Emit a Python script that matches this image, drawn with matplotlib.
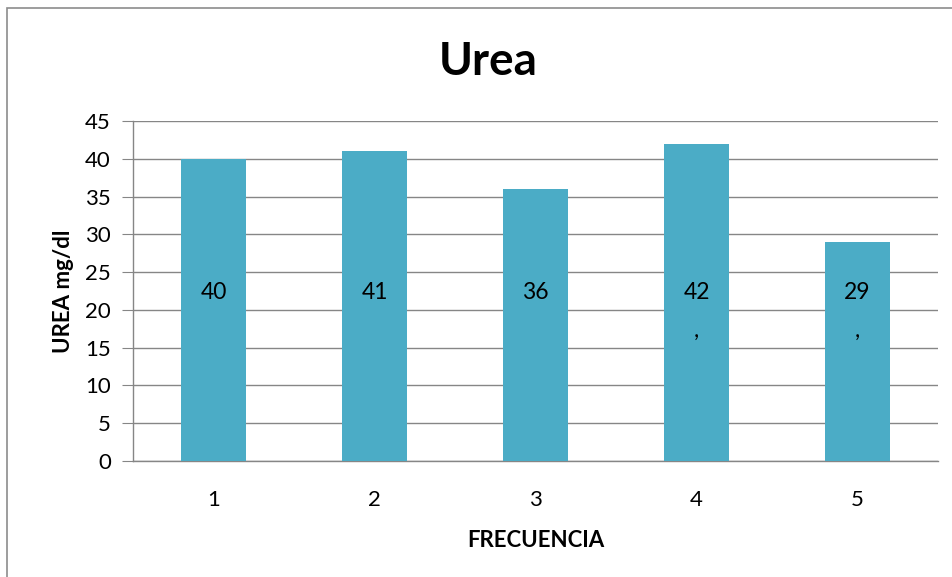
import numpy as np
import matplotlib.pyplot as plt
from matplotlib.patches import Rectangle

plt.rcParams['font.family'] = ['Lato', 'DejaVu Sans']

categories = ['1', '2', '3', '4', '5']
urea = [40, 41, 36, 42, 29]
bar_labels = ['40', '41', '36', '42\n,', '29\n,']
yticks = [0, 5, 10, 15, 20, 25, 30, 35, 40, 45]

fig = plt.figure(figsize=(9.52, 5.77), dpi=100)
ax = fig.add_axes([133/952, 1 - 461/577, (938 - 133)/952, (461 - 121)/577])

# outer chart border
fig.patches.append(Rectangle((7/952, -0.1), 1.1, 1 - 8/577 + 0.1, transform=fig.transFigure,
                             fill=False, edgecolor='#8c8c8c', linewidth=1.2))

grey = '#868686'
x = np.arange(len(categories))
ax.bar(x, urea, width=0.4, color='#4BACC6', zorder=3)
ax.set_xlim(-0.5, len(categories) - 0.5)
ax.set_ylim(0, 45)
ax.set_yticks(yticks)
ax.set_xticks(x)
ax.set_xticklabels(categories)
ax.yaxis.grid(True, color=grey, linewidth=1, zorder=0)
ax.set_axisbelow(True)

for s in ['top', 'right']:
    ax.spines[s].set_visible(False)
for s in ['left', 'bottom']:
    ax.spines[s].set_color(grey)
    ax.spines[s].set_linewidth(1)

ax.tick_params(axis='y', length=8, color=grey, labelsize=16, pad=8)
ax.tick_params(axis='x', length=0, labelsize=16, pad=21)

for xi, lab in zip(x, bar_labels):
    first, *rest = lab.split('\n')
    ax.text(xi, 22.3, first, ha='center', va='center', fontsize=16.5, zorder=4)
    if rest:
        ax.text(xi, 17.2, rest[0], ha='center', va='center', fontsize=16.5, zorder=4)

ax.set_ylabel('UREA mg/dl', fontsize=16, fontweight='bold', labelpad=8)
ax.set_xlabel('FRECUENCIA', fontsize=16, fontweight='bold', labelpad=14)
fig.text(488/952, 1 - 62/577, 'Urea', ha='center', va='center', fontsize=33, fontweight='bold')

fig.savefig('out.png', dpi=100)
